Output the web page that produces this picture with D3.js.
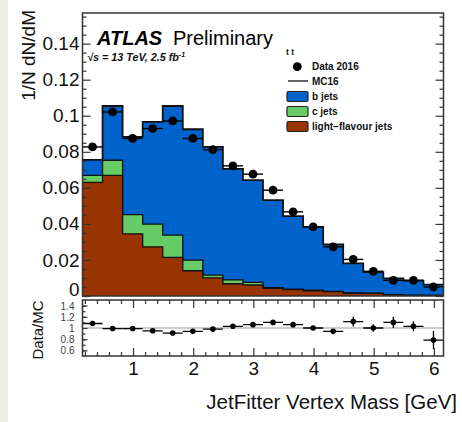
<!DOCTYPE html>
<html>
<head>
<meta charset="utf-8">
<script src="https://cdn.jsdelivr.net/npm/d3@7"></script>
<style>
  html, body { margin: 0; padding: 0; background: #fff; }
  svg { display: block; font-family: "Liberation Sans", Arial, Helvetica, sans-serif; }
</style>
</head>
<body>
<svg id="chart" width="462" height="422"></svg>
<script>
// JetFitter vertex mass, 18 bins of 1/3 GeV
const binLow = 0.16;
const binWidth = 1 / 3;
const nBins = 18;

// MC stack components (normalised)
const lightJets = [0.0630, 0.0669, 0.0345, 0.0273, 0.0214, 0.0140, 0.0101, 0.0068, 0.0061,
                   0.0043, 0.0035, 0.0029, 0.0024, 0.0015, 0.0015, 0.0006, 0.0004, 0.0003];
const cJets     = [0.0039, 0.0084, 0.0107, 0.0126, 0.0124, 0.0059, 0.0015, 0.0021, 0.0015,
                   0.0004, 0.0003, 0.0003, 0.0002, 0.0002, 0.0001, 0.0001, 0.0001, 0.0001];
const bJets     = [0.0086, 0.0301, 0.0431, 0.0567, 0.0716, 0.0726, 0.0711, 0.0616, 0.0567,
                   0.0485, 0.0405, 0.0352, 0.0260, 0.0164, 0.0117, 0.0091, 0.0080, 0.0059];

// Data 2016
const data2016  = [0.0827, 0.1021, 0.0874, 0.0929, 0.0971, 0.0874, 0.0812, 0.0722, 0.0676,
                   0.0587, 0.0467, 0.0384, 0.0273, 0.0203, 0.0137, 0.0087, 0.0087, 0.0050];

// Data / MC ratio and its uncertainty
const ratio     = [1.08, 0.99, 0.99, 0.95, 0.91, 0.94, 0.98, 1.03, 1.06,
                   1.10, 1.06, 1.00, 0.94, 1.115, 1.00, 1.10, 1.03, 0.785];
const ratioErr  = [0.012, 0.010, 0.010, 0.010, 0.010, 0.010, 0.012, 0.013, 0.015,
                   0.020, 0.022, 0.025, 0.035, 0.087, 0.065, 0.10, 0.09, 0.16];

// Tick values and labels
const mainYTicks  = [0, 0.02, 0.04, 0.06, 0.08, 0.10, 0.12, 0.14];
const mainYLabels = ["0", "0.02", "0.04", "0.06", "0.08", "0.1", "0.12", "0.14"];
const ratioYTicks  = [0.6, 0.8, 1.0, 1.2, 1.4];
const ratioYLabels = ["0.6", "0.8", "1", "1.2", "1.4"];
const xTicks  = [1, 2, 3, 4, 5, 6];
const xLabels = ["1", "2", "3", "4", "5", "6"];

const legendItems = [
  { label: "b jets", color: "#0063cc" },
  { label: "c jets", color: "#66cc66" },
  { label: "light\u2212flavour jets", color: "#993300" }
];

const svg = d3.select("#chart");

// page margin strip
svg.append("rect").attr("x", 0).attr("y", 0).attr("width", 8).attr("height", 422).attr("fill", "#eeeee8");

const left = 82.5, right = 443.5;
const mainTop = 13, mainBottom = 296;
const ratTop = 300, ratBottom = 356;

const x = d3.scaleLinear().domain([binLow, binLow + nBins * binWidth]).range([left, right]);
const y = d3.scaleLinear().domain([0, 0.157]).range([mainBottom, mainTop]);
const yr = d3.scaleLinear().domain([0.5, 1.5]).range([ratBottom, ratTop]);

const edges = d3.range(nBins + 1).map(i => binLow + i * binWidth);
const centers = d3.range(nBins).map(i => binLow + (i + 0.5) * binWidth);

// cumulative stack layers: light, light+c, light+c+b
const cumLight = lightJets;
const cumC = lightJets.map((v, i) => v + cJets[i]);
const cumB = cumC.map((v, i) => v + bJets[i]);

function stepPoints(vals) {
  const pts = vals.map((v, i) => [edges[i], v]);
  pts.push([edges[nBins], vals[nBins - 1]]);
  return pts;
}

const area = d3.area().curve(d3.curveStepAfter)
  .x(d => x(d[0])).y0(y(0)).y1(d => y(d[1]));
const line = d3.line().curve(d3.curveStepAfter)
  .x(d => x(d[0])).y(d => y(d[1]));

const layers = [
  { vals: cumB, color: legendItems[0].color, width: 1.8 },
  { vals: cumC, color: legendItems[1].color, width: 1.3 },
  { vals: cumLight, color: legendItems[2].color, width: 1.3 }
];

const gMain = svg.append("g");
layers.forEach(L => {
  const pts = stepPoints(L.vals);
  gMain.append("path").attr("d", area(pts)).attr("fill", L.color);
  gMain.append("path").attr("d", line(pts)).attr("fill", "none")
    .attr("stroke", "#111").attr("stroke-width", L.width);
});

// Data points with bin-width horizontal bars
const gData = svg.append("g");
data2016.forEach((v, i) => {
  gData.append("line")
    .attr("x1", x(edges[i])).attr("x2", x(edges[i + 1]))
    .attr("y1", y(v)).attr("y2", y(v))
    .attr("stroke", "#000").attr("stroke-width", 1.4);
  gData.append("circle").attr("cx", x(centers[i])).attr("cy", y(v)).attr("r", 4.4).attr("fill", "#000");
});

// Main frame and axes
svg.append("rect").attr("x", left).attr("y", mainTop).attr("width", right - left).attr("height", mainBottom - mainTop)
  .attr("fill", "none").attr("stroke", "#333").attr("stroke-width", 1.5);

const minorMainY = d3.range(0, 0.1571, 0.005).filter(v => !mainYTicks.some(t => Math.abs(t - v) < 1e-6));

const axL = svg.append("g").attr("transform", `translate(${left},0)`)
  .call(d3.axisLeft(y).tickValues(mainYTicks).tickSizeInner(-8).tickSizeOuter(0).tickPadding(3)
    .tickFormat((d, i) => mainYLabels[i]));
svg.append("g").attr("transform", `translate(${left},0)`)
  .call(d3.axisLeft(y).tickValues(minorMainY).tickSizeInner(-4).tickSizeOuter(0).tickFormat(""));
svg.append("g").attr("transform", `translate(${right},0)`)
  .call(d3.axisRight(y).tickValues(mainYTicks).tickSizeInner(-8).tickSizeOuter(0).tickFormat(""));
svg.append("g").attr("transform", `translate(${right},0)`)
  .call(d3.axisRight(y).tickValues(minorMainY).tickSizeInner(-4).tickSizeOuter(0).tickFormat(""));
axL.selectAll("text").attr("font-size", 19).attr("fill", "#111")
  .attr("font-family", "Liberation Sans, Arial, sans-serif");
// the zero label sits just above the panel join
axL.selectAll(".tick").filter(d => d === 0).select("text").attr("dy", "-0.02em");

// Ratio panel
svg.append("line").attr("x1", left).attr("x2", right).attr("y1", yr(1)).attr("y2", yr(1))
  .attr("stroke", "#999").attr("stroke-width", 1.2);

svg.append("clipPath").attr("id", "ratClip").append("rect")
  .attr("x", left).attr("y", ratTop).attr("width", right - left).attr("height", ratBottom - ratTop);
const gRat = svg.append("g").attr("clip-path", "url(#ratClip)");
ratio.forEach((r, i) => {
  gRat.append("line")
    .attr("x1", x(edges[i])).attr("x2", x(edges[i + 1]))
    .attr("y1", yr(r)).attr("y2", yr(r))
    .attr("stroke", "#000").attr("stroke-width", 1.3);
  gRat.append("line")
    .attr("x1", x(centers[i])).attr("x2", x(centers[i]))
    .attr("y1", yr(r - ratioErr[i])).attr("y2", yr(r + ratioErr[i]))
    .attr("stroke", "#000").attr("stroke-width", 1.3);
  gRat.append("circle").attr("cx", x(centers[i])).attr("cy", yr(r)).attr("r", 2.8).attr("fill", "#000");
});

svg.append("rect").attr("x", left).attr("y", ratTop).attr("width", right - left).attr("height", ratBottom - ratTop)
  .attr("fill", "none").attr("stroke", "#333").attr("stroke-width", 1.5);

const minorX = d3.range(0.2, 6.15, 0.2).filter(v => !xTicks.some(t => Math.abs(t - v) < 1e-6));
const axB = svg.append("g").attr("transform", `translate(0,${ratBottom})`)
  .call(d3.axisBottom(x).tickValues(xTicks).tickSizeInner(-8).tickSizeOuter(0).tickPadding(6)
    .tickFormat((d, i) => xLabels[i]));
svg.append("g").attr("transform", `translate(0,${ratBottom})`)
  .call(d3.axisBottom(x).tickValues(minorX).tickSizeInner(-4).tickSizeOuter(0).tickFormat(""));
svg.append("g").attr("transform", `translate(0,${ratTop})`)
  .call(d3.axisTop(x).tickValues(xTicks).tickSizeInner(-8).tickSizeOuter(0).tickFormat(""));
svg.append("g").attr("transform", `translate(0,${ratTop})`)
  .call(d3.axisTop(x).tickValues(minorX).tickSizeInner(-4).tickSizeOuter(0).tickFormat(""));
axB.selectAll("text").attr("font-size", 19).attr("fill", "#111")
  .attr("font-family", "Liberation Sans, Arial, sans-serif");

const minorRY = [0.6, 0.7, 0.8, 0.9, 1.1, 1.2, 1.3, 1.4];
const axRL = svg.append("g").attr("transform", `translate(${left},0)`)
  .call(d3.axisLeft(yr).tickValues(ratioYTicks).tickSizeInner(-5).tickSizeOuter(0).tickPadding(8)
    .tickFormat((d, i) => ratioYLabels[i]));
svg.append("g").attr("transform", `translate(${left},0)`)
  .call(d3.axisLeft(yr).tickValues(minorRY).tickSizeInner(-3).tickSizeOuter(0).tickFormat(""));
axRL.selectAll("text").attr("font-size", 10).attr("fill", "#444")
  .attr("font-family", "Liberation Sans, Arial, sans-serif");
axRL.selectAll(".tick").filter(d => d === 1.4).select("text").attr("dy", "0.35em");

svg.selectAll(".domain").remove();
svg.selectAll(".tick line").attr("stroke", "#333").attr("stroke-width", 1.2);

// Axis titles
svg.append("text").attr("transform", "translate(35,10) rotate(-90)")
  .attr("text-anchor", "end").attr("font-size", 19).attr("fill", "#111").text("1/N dN/dM");
svg.append("text").attr("transform", "translate(43,330) rotate(-90)")
  .attr("text-anchor", "middle").attr("font-size", 15).attr("fill", "#111").text("Data/MC");
svg.append("text").attr("x", 457).attr("y", 409).attr("text-anchor", "end")
  .attr("font-size", 20.5).attr("fill", "#111").text("JetFitter Vertex Mass [GeV]");

// ATLAS label
svg.append("text").attr("x", 97).attr("y", 45).attr("font-size", 20)
  .attr("font-weight", "bold").attr("font-style", "italic").attr("fill", "#000").text("ATLAS");
svg.append("text").attr("x", 173).attr("y", 45).attr("font-size", 20).attr("fill", "#000").text("Preliminary");
const sub = svg.append("text").attr("x", 87).attr("y", 61).attr("font-size", 10.8)
  .attr("font-weight", "bold").attr("font-style", "italic").attr("fill", "#111");
sub.append("tspan").text("\u221As = 13 TeV, 2.5 fb");
sub.append("tspan").attr("dy", -4).attr("font-size", 7).text("-1");

svg.append("text").attr("x", 286).attr("y", 55).attr("font-size", 8.5)
  .attr("font-weight", "bold").attr("fill", "#111").text("t t");

// Legend
const legX = 287, legText = 312;
svg.append("circle").attr("cx", 297.3).attr("cy", 66.7).attr("r", 4.4).attr("fill", "#000");
svg.append("text").attr("x", legText).attr("y", 70.3).attr("font-size", 10)
  .attr("font-weight", "bold").attr("fill", "#111").text("Data 2016");
svg.append("line").attr("x1", 288).attr("x2", 308).attr("y1", 81).attr("y2", 81)
  .attr("stroke", "#555").attr("stroke-width", 1.8);
svg.append("text").attr("x", legText).attr("y", 84.6).attr("font-size", 10)
  .attr("font-weight", "bold").attr("fill", "#111").text("MC16");
legendItems.forEach((it, i) => {
  const cy = 96.5 + i * 15;
  svg.append("rect").attr("x", legX).attr("y", cy - 5).attr("width", 21).attr("height", 10)
    .attr("rx", 1.5).attr("fill", it.color).attr("stroke", "#222").attr("stroke-width", 1.2);
  svg.append("text").attr("x", legText).attr("y", cy + 3.6).attr("font-size", 10)
    .attr("font-weight", "bold").attr("fill", "#111").text(it.label);
});
</script>
</body>
</html>
